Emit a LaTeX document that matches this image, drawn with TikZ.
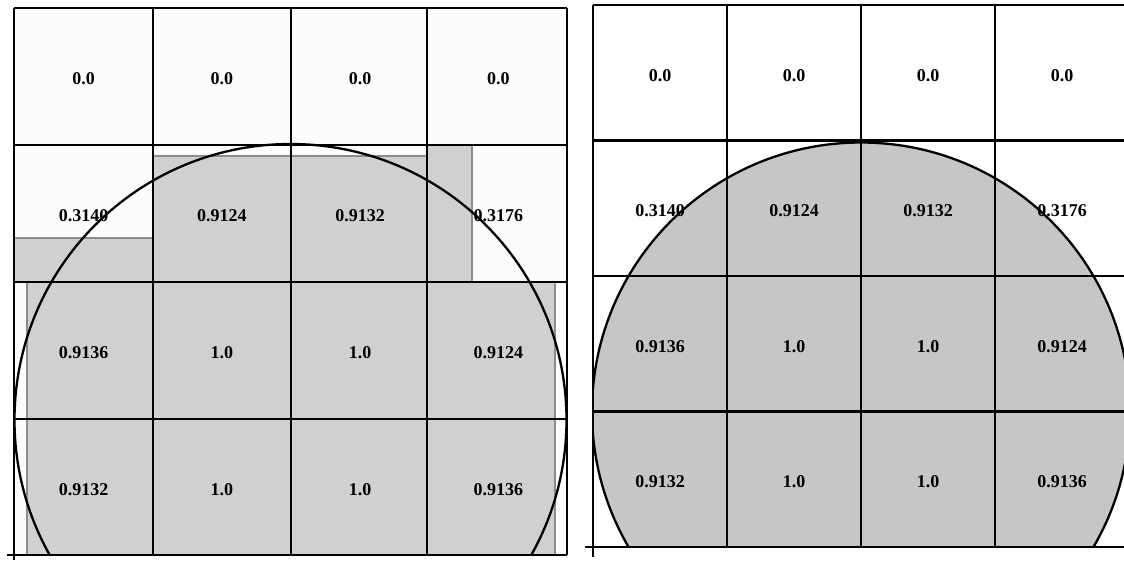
\documentclass[tikz,border=0pt]{standalone}
\usepackage{fontspec}
\setmainfont{Liberation Serif}
\definecolor{lgrey}{HTML}{D0D0D0}
\definecolor{lgreyline}{HTML}{8C8C8C}
\definecolor{rgrey}{HTML}{C6C6C6}
\definecolor{paper}{HTML}{FCFCFC}
\begin{document}
\begin{tikzpicture}[x=1pt,y=-1pt,
  gridline/.style={black,line width=2.6pt},
  circline/.style={black,line width=2.3pt},
  partcell/.style={fill=lgrey,draw=lgreyline,line width=1.2pt},
  val/.style={font=\bfseries\fontsize{18}{21}\selectfont,inner sep=0pt}]
\useasboundingbox (0,0) rectangle (1124,560);
\fill[white] (0,0) rectangle (1124,560);
% ---------------- left panel ----------------
\fill[paper] (14,8) rectangle (567,555);
\draw[partcell] (14,238) rectangle (153,282);
\draw[partcell] (153,156) rectangle (291,282);
\draw[partcell] (291,156) rectangle (427,282);
\draw[partcell] (427,145) rectangle (472,282);
\draw[partcell] (27,282) rectangle (153,555);
\fill[lgrey] (153,282) rectangle (427,555);
\draw[partcell] (427,282) rectangle (555,555);
\foreach \x in {14,153,291,427,567} \draw[gridline] (\x,8) -- (\x,555);
\draw[gridline] (14,8) -- (14,560);
\foreach \y in {8,145,282,419} \draw[gridline] (14,\y) -- (567,\y);
\draw[gridline] (7,555) -- (567,555);
\begin{scope}
  \clip (14,8) rectangle (567,555);
  \draw[circline] (290.5,420) circle[radius=276pt];
\end{scope}
\foreach \v [count=\i from 0] in {0.0,0.0,0.0,0.0} \node[val] (La\i) at (83.5+138.25*\i,79) {\v};
\foreach \v [count=\i from 0] in {0.3140,0.9124,0.9132,0.3176} \node[val] (Lb\i) at (83.5+138.25*\i,216) {\v};
\foreach \v [count=\i from 0] in {0.9136,1.0,1.0,0.9124} \node[val] (Lc\i) at (83.5+138.25*\i,353) {\v};
\foreach \v [count=\i from 0] in {0.9132,1.0,1.0,0.9136} \node[val] (Ld\i) at (83.5+138.25*\i,490) {\v};
% ---------------- right panel ----------------
\begin{scope}
  \clip (593,5) rectangle (1129,547);
  \fill[rgrey] (861,411.5) circle[radius=269pt];
\end{scope}
\foreach \x in {593,727,861,995} \draw[gridline] (\x,5) -- (\x,547);
\draw[gridline] (593,5) -- (593,557);
\foreach \y in {5,140.5,276,411.5} \draw[gridline] (593,\y) -- (1130,\y);
\draw[gridline] (585,547) -- (1130,547);
\begin{scope}
  \clip (593,5) rectangle (1129,547);
  \draw[circline] (861,411.5) circle[radius=269pt];
\end{scope}
\foreach \v [count=\i from 0] in {0.0,0.0,0.0,0.0} \node[val] (Ra\i) at (660+134*\i,76) {\v};
\foreach \v [count=\i from 0] in {0.3140,0.9124,0.9132,0.3176} \node[val] (Rb\i) at (660+134*\i,211) {\v};
\foreach \v [count=\i from 0] in {0.9136,1.0,1.0,0.9124} \node[val] (Rc\i) at (660+134*\i,347) {\v};
\foreach \v [count=\i from 0] in {0.9132,1.0,1.0,0.9136} \node[val] (Rd\i) at (660+134*\i,482) {\v};
\end{tikzpicture}
\end{document}
